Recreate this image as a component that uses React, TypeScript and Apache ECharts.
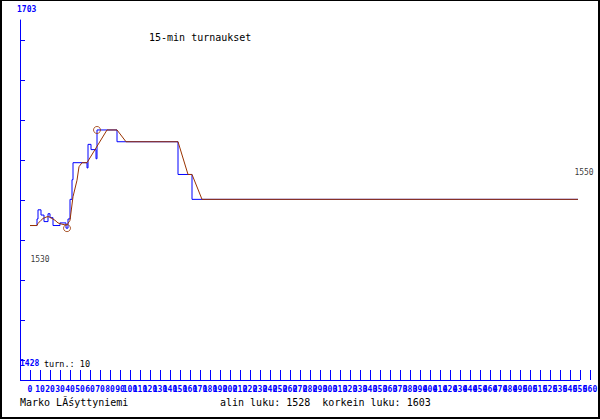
import React, { useEffect, useRef } from 'react';
import * as echarts from 'echarts';

const BLUE = '#0000ff';
const BROWN = '#993300';
const MONO = "'DejaVu Sans Mono', monospace";

// actual values (step line)
const blueX = [0, 7, 8, 11, 14, 18, 20, 23, 30, 36, 38, 40, 42, 43, 57, 58, 61, 66, 67, 87, 148, 162, 548];
const blueV = [1530, 1535, 1542, 1538, 1533, 1539, 1536, 1530, 1532, 1528, 1535, 1550, 1565, 1578, 1574, 1592, 1588, 1581, 1603, 1594, 1569, 1550, 1550];

// smoothed values
const brownX = [0, 7, 8, 11, 13, 17, 19, 22, 25, 28, 32, 35, 37, 38, 40, 43, 47, 49, 52, 57, 77, 87, 96, 148, 158, 162, 172, 548];
const brownV = [1530, 1530, 1531.6, 1534, 1535.4, 1536.7, 1536.7, 1535.4, 1534, 1532, 1531, 1530.5, 1530.5, 1531.6, 1534, 1552, 1564.6, 1574.9, 1578, 1578, 1603, 1603, 1594, 1594, 1569, 1569, 1550, 1550];

// min / max markers
const extremeX = [37, 67];
const extremeV = [1528, 1603];

const yEndLabels = ['1703', '1428'];
const turnLabel = 'turn.: 10';
const titleText = '15-min turnaukset';
const authorText = 'Marko LĂśyttyniemi';
const statsText = 'alin luku: 1528  korkein luku: 1603';

const Y_MIN = 1412;
const Y_MAX = 1687;
const X_MIN = -10;
const X_MAX = 570;
const X_LAST_LABEL = 560;
const X_INTERVAL = 10;
const yTickSteps = [1, 3, 5, 7, 9, 11, 13, 15, 17];

export default function App() {
  const ref = useRef<HTMLDivElement>(null);

  useEffect(() => {
    if (!ref.current) return;
    const chart = echarts.init(ref.current, null, { renderer: 'svg' });
    const yTicks = yTickSteps.map((k) => Y_MIN + (k * 20 * (Y_MAX - Y_MIN)) / 360);
    const lastI = brownX.length - 1;

    const txt = (text: string, x: number, y: number, size: number, color: string, bold = false) => ({
      type: 'text',
      x,
      y,
      z: 10,
      style: {
        text,
        fill: color,
        font: `${bold ? 'bold ' : ''}${size}px ${MONO}`,
        textAlign: 'left',
        textVerticalAlign: 'middle',
        align: 'left',
        verticalAlign: 'middle',
      },
    });

    chart.setOption({
      animation: false,
      backgroundColor: '#ffffff',
      grid: { left: 20, right: 0, top: 20, bottom: 40, containLabel: false, outerBoundsMode: 'none' },
      xAxis: {
        type: 'value',
        min: X_MIN,
        max: X_MAX,
        interval: X_INTERVAL,
        axisLine: { show: false, onZero: false },
        axisTick: { show: true, inside: true, length: 10, lineStyle: { color: BLUE, width: 1 } },
        axisLabel: {
          show: true,
          color: BLUE,
          fontSize: 8,
          fontWeight: 'bold',
          fontFamily: MONO,
          margin: 5,
          hideOverlap: false,
          formatter: (v: number) => (v < 0 || v > X_LAST_LABEL ? '' : String(v)),
        },
        splitLine: { show: false },
      },
      yAxis: {
        type: 'value',
        min: Y_MIN,
        max: Y_MAX,
        axisLine: { show: true, onZero: false, lineStyle: { color: BLUE, width: 1 } },
        axisTick: {
          show: true,
          inside: true,
          length: 5,
          lineStyle: { color: BLUE, width: 1 },
          customValues: yTicks,
        },
        axisLabel: { show: false },
        splitLine: { show: false },
      },
      series: [
        {
          type: 'line',
          step: 'end',
          data: blueX.map((x, i) => [x, blueV[i]]),
          symbol: 'none',
          lineStyle: { color: BLUE, width: 1 },
          z: 2,
        },
        {
          type: 'line',
          data: brownX.map((x, i) => [x, brownV[i]]),
          symbol: 'none',
          lineStyle: { color: BROWN, width: 1 },
          z: 3,
        },
        {
          type: 'scatter',
          data: extremeX.map((x, i) => [x, extremeV[i]]),
          symbol: 'circle',
          symbolSize: 7,
          itemStyle: { color: 'rgba(0,0,0,0)', borderColor: BROWN, borderWidth: 1 },
          z: 4,
        },
        {
          type: 'scatter',
          symbolSize: 1,
          itemStyle: { color: 'rgba(0,0,0,0)' },
          label: {
            show: true,
            position: 'inside',
            color: '#000000',
            fontSize: 8,
            fontFamily: MONO,
            formatter: (p: any) => String(p.value[1]),
          },
          data: [
            { value: [brownX[0], brownV[0]], label: { offset: [10, 34] } },
            { value: [brownX[lastI], brownV[lastI]], label: { offset: [6, -27] } },
          ],
          z: 5,
        },
      ],
      graphic: [
        {
          type: 'line',
          shape: { x1: 20, y1: 380.5, x2: 580, y2: 380.5 },
          style: { stroke: BLUE, lineWidth: 1 },
          z: 5,
        },
        txt(titleText, 149, 37, 10, '#000000'),
        txt(yEndLabels[0], 17, 9, 8, BLUE, true),
        txt(yEndLabels[1], 20, 363.5, 8, BLUE, true),
        txt(turnLabel, 44, 363.5, 8.5, '#000000'),
        txt(authorText, 20, 402, 10, '#000000'),
        txt(statsText, 220, 402, 10, '#000000'),
        {
          type: 'rect',
          shape: { x: 1, y: 0, width: 598, height: 418 },
          style: { fill: 'none', stroke: '#000000', lineWidth: 2 },
          z: 20,
        },
      ],
    });

    return () => chart.dispose();
  }, []);

  return (
    <div
      ref={ref}
      style={{ position: 'fixed', left: 0, top: 0, width: 600, height: 420, background: '#fff' }}
    />
  );
}
